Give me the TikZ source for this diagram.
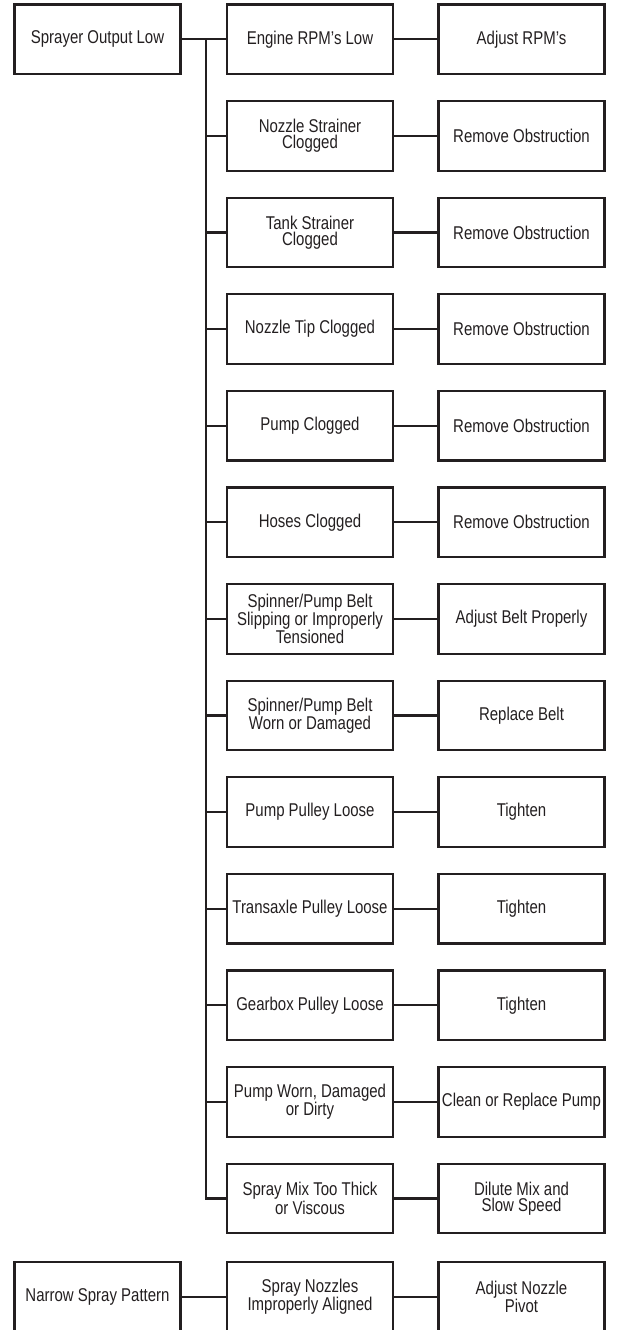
\documentclass[tikz,border=0pt]{standalone}
\usepackage{fontspec}
\setmainfont{Liberation Sans}[FakeStretch=0.81]
\definecolor{ink}{HTML}{231F20}
\begin{document}
\begin{tikzpicture}[x=1pt,y=-1pt,
  box/.style={draw=ink, line width=2.2pt, minimum width=166pt, minimum height=69.5pt,
    inner sep=0pt, align=center, text=ink, font=\fontsize{18.5}{16}\selectfont},
  link/.style={draw=ink, line width=2.2pt}]
\useasboundingbox (0,0) rectangle (618,1330);
% column 1
\node[box] (s1) at (97.5,39.25) {Sprayer Output Low};
\node[box] (s2) at (97.5,1296.75) {Narrow Spray Pattern};
% column 2 (causes)
\node[box] (c1) at (310,39.25) {Engine RPM’s Low};
\node[box] (c2) at (310,135.85) {Nozzle Strainer\\Clogged};
\node[box] (c3) at (310,232.45) {Tank Strainer\\Clogged};
\node[box] (c4) at (310,329.05) {Nozzle Tip Clogged};
\node[box] (c5) at (310,425.65) {Pump Clogged};
\node[box] (c6) at (310,522.25) {Hoses Clogged};
\node[box] (c7) at (310,618.85) {Spinner/Pump Belt\\Slipping or Improperly\\Tensioned};
\node[box] (c8) at (310,715.45) {Spinner/Pump Belt\\Worn or Damaged};
\node[box] (c9) at (310,812.05) {Pump Pulley Loose};
\node[box] (c10) at (310,908.65) {Transaxle Pulley Loose};
\node[box] (c11) at (310,1005.25) {Gearbox Pulley Loose};
\node[box] (c12) at (310,1101.85) {Pump Worn, Damaged\\or Dirty};
\node[box] (c13) at (310,1198.45) {Spray Mix Too Thick\\or Viscous};
\node[box] (c14) at (310,1296.75) {Spray Nozzles\\Improperly Aligned};
% column 3 (remedies)
\node[box] (r1) at (521.5,39.25) {Adjust RPM’s};
\node[box] (r2) at (521.5,135.85) {Remove Obstruction};
\node[box] (r3) at (521.5,232.45) {Remove Obstruction};
\node[box] (r4) at (521.5,329.05) {Remove Obstruction};
\node[box] (r5) at (521.5,425.65) {Remove Obstruction};
\node[box] (r6) at (521.5,522.25) {Remove Obstruction};
\node[box] (r7) at (521.5,618.85) {Adjust Belt Properly};
\node[box] (r8) at (521.5,715.45) {Replace Belt};
\node[box] (r9) at (521.5,812.05) {Tighten};
\node[box] (r10) at (521.5,908.65) {Tighten};
\node[box] (r11) at (521.5,1005.25) {Tighten};
\node[box] (r12) at (521.5,1101.85) {Clean or Replace Pump};
\node[box] (r13) at (521.5,1198.45) {Dilute Mix and\\Slow Speed};
\node[box] (r14) at (521.5,1296.75) {Adjust Nozzle\\Pivot};
% trunk
\coordinate (trunk) at (206,39.25);
\draw[link] (s1.east) -- (c1.west);
\draw[link] (trunk) |- (c13.west);
\foreach \i in {2,...,12} {
  \draw[link] (trunk |- c\i.west) -- (c\i.west);
}
\foreach \i in {1,...,14} {
  \draw[link] (c\i.east) -- (r\i.west);
}
\draw[link] (s2.east) -- (c14.west);
\end{tikzpicture}
\end{document}
